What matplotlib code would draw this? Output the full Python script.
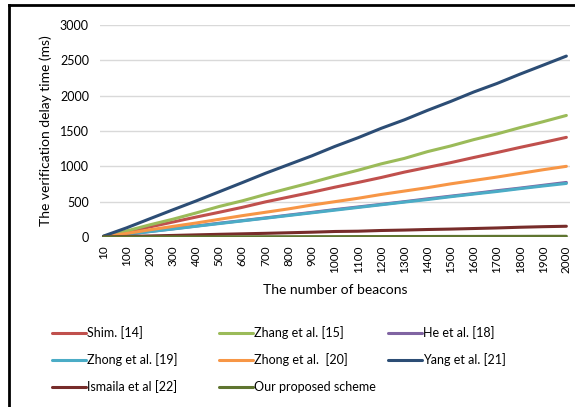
import matplotlib
matplotlib.use("Agg")
import matplotlib.pyplot as plt
from matplotlib.lines import Line2D

beacons = ["10", "100", "200", "300", "400", "500", "600", "700", "800", "900", "1000",
           "1100", "1200", "1300", "1400", "1500", "1600", "1700", "1800", "1900", "2000"]

shim = [7, 72, 142, 212, 282, 350, 420, 497, 565, 633, 705, 772, 842, 918, 985, 1052, 1125, 1195, 1268, 1338, 1410]
zhang = [9, 86, 172, 252, 340, 432, 512, 602, 688, 772, 862, 945, 1035, 1112, 1208, 1288, 1378, 1458, 1548, 1632, 1720]
he = [4, 40, 78, 116, 155, 195, 232, 270, 310, 348, 388, 425, 462, 500, 540, 578, 615, 655, 692, 732, 772]
zhong19 = [4, 38, 76, 113, 152, 190, 228, 266, 304, 342, 380, 418, 456, 494, 530, 570, 608, 644, 684, 722, 758]
zhong20 = [5, 50, 102, 150, 198, 250, 302, 350, 398, 452, 500, 548, 602, 650, 698, 752, 800, 848, 900, 952, 1000]
yang = [13, 130, 258, 385, 510, 640, 770, 902, 1025, 1148, 1282, 1405, 1538, 1658, 1792, 1918, 2052, 2172, 2305, 2432, 2560]
ismaila = [1, 8, 15, 22, 30, 38, 45, 52, 60, 68, 78, 82, 92, 98, 106, 112, 120, 128, 138, 146, 152]
ours = [0, 1, 1, 2, 2, 3, 3, 4, 4, 5, 5, 6, 6, 7, 7, 8, 8, 9, 9, 10, 10]

series = [
    ("Shim. [14]", shim, "#C0504D"),
    ("Zhang et al. [15]", zhang, "#9BBB59"),
    ("He et al. [18]", he, "#8064A2"),
    ("Zhong et al. [19]", zhong19, "#4BACC6"),
    ("Zhong et al.  [20]", zhong20, "#F79646"),
    ("Yang et al. [21]", yang, "#2C4D75"),
    ("Ismaila et al [22]", ismaila, "#772C2A"),
    ("Our proposed scheme", ours, "#5F7530"),
]

plt.rcParams['font.family'] = ['Lato', 'DejaVu Sans']

W, H = 575, 407
fig = plt.figure(figsize=(W / 100, H / 100), dpi=100)
ax = fig.add_axes([0.174, 0.4177, 0.817, 0.5209])

x = list(range(len(beacons)))
for name, vals, col in series:
    ax.plot(x, vals, color=col, lw=2.2, label=name, solid_capstyle='round')

ax.set_ylim(0, 3000)
ax.set_xlim(-0.15, 20.15)
ax.set_yticks(range(0, 3001, 500))
ax.set_xticks(x)
ax.set_xticklabels(beacons, rotation=90, fontsize=8.5)
ax.tick_params(axis='y', labelsize=9, length=0, pad=8)
ax.tick_params(axis='x', length=0, pad=6)
ax.grid(axis='y', color='#D9D9D9', lw=1)
ax.set_axisbelow(True)
for s in ax.spines.values():
    s.set_visible(False)

ax.set_ylabel("The verification delay time (ms)", fontsize=10, labelpad=6)
ax.set_xlabel("The number of beacons", fontsize=10, labelpad=8)

# legend: 3 columns, row-major order, drawn in figure pixel positions
col_x = [52, 219, 388]
row_y = [333, 360, 387]
for i, (name, vals, col) in enumerate(series):
    r, c = divmod(i, 3)
    x0 = col_x[c]
    y0 = H - row_y[r]
    fig.add_artist(Line2D([x0 / W, (x0 + 34) / W], [y0 / H, y0 / H],
                          transform=fig.transFigure, color=col, lw=2.2,
                          solid_capstyle='round'))
    fig.text((x0 + 35) / W, y0 / H, name, fontsize=9, va='center', ha='left')

fig.add_artist(Line2D([0.016, 0.016], [0, 0.988], transform=fig.transFigure, color='black', lw=2))
fig.add_artist(Line2D([0.016, 1.0], [0.988, 0.988], transform=fig.transFigure, color='black', lw=2))

fig.savefig("out.png", dpi=100)
